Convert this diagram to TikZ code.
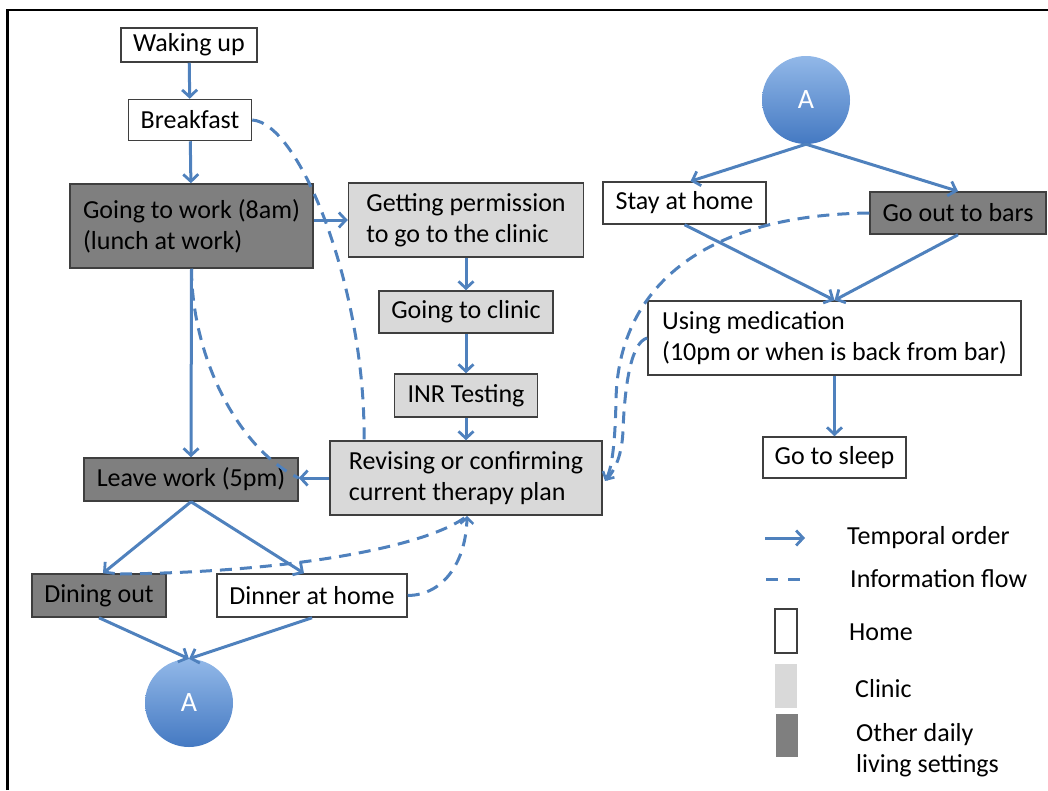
\documentclass[tikz,border=0pt]{standalone}
\usepackage{fontspec}
\setmainfont{Carlito}
\usetikzlibrary{arrows.meta,calc}
\definecolor{arrowblue}{HTML}{4F81BD}
\definecolor{darkfill}{HTML}{7F7F7F}
\definecolor{lightfill}{HTML}{D9D9D9}
\definecolor{boxline}{HTML}{3F3F3F}
\definecolor{circtop}{HTML}{92B8E8}
\definecolor{circbot}{HTML}{4479C2}
\begin{document}
\begin{tikzpicture}[x=1pt,y=-1pt,
  every node/.style={font=\fontsize{26}{31}\selectfont},
  box/.style={draw=boxline, line width=1.5pt, inner xsep=11pt, inner ysep=3pt, align=left},
  home/.style={box, fill=white},
  clinic/.style={box, fill=lightfill},
  other/.style={box, fill=darkfill},
  flow/.style={draw=arrowblue, line width=3pt, -{Straight Barb[length=7pt,width=15pt,line width=2.8pt]}},
  info/.style={draw=arrowblue, line width=3pt, dash pattern=on 12pt off 8pt},
  infoarrow/.style={info, -{Straight Barb[length=6pt,width=13pt,line width=2.6pt]}},
  conn/.style={circle, minimum size=88pt, inner sep=0pt, top color=circtop, bottom color=circbot, draw=none, text=white, font=\fontsize{28}{32}\selectfont}]
\useasboundingbox (0,0) rectangle (1048,790);
\draw[line width=2.2pt] (7.5,790) -- (7.5,10) -- (1048,10);

% nodes
\node[home, minimum width=136pt, minimum height=34pt] (wake) at (189,45) {Waking up};
\node[home, minimum width=123pt, minimum height=41pt] (bfast) at (190,120) {Breakfast};
\node[other, minimum width=243pt, minimum height=84pt] (work) at (191.5,226) {Going to work (8am)\\(lunch at work)};
\node[clinic, minimum width=235pt, minimum height=74pt] (perm) at (466,220) {Getting permission\\to go to the clinic};
\node[clinic, minimum width=174pt, minimum height=42pt] (goclinic) at (466,312) {Going to clinic};
\node[clinic, minimum width=143pt, minimum height=43pt] (inr) at (466,395.5) {INR Testing};
\node[clinic, minimum width=272pt, minimum height=74pt] (rev) at (466,478) {Revising or confirming\\current therapy plan};
\node[other, minimum width=214pt, minimum height=43pt] (leave) at (191,479.5) {Leave work (5pm)};
\node[other, minimum width=134pt, minimum height=43pt] (dine) at (99,595.5) {Dining out};
\node[home, minimum width=190pt, minimum height=43pt] (dinner) at (312,595.5) {Dinner at home};
\node[conn] (a1) at (189,703) {A};
\node[conn] (a2) at (806,100) {A};
\node[home, minimum width=163pt, minimum height=42pt] (stay) at (684.5,203) {Stay at home};
\node[other, minimum width=176pt, minimum height=42pt] (bars) at (958,213) {Go out to bars};
\node[home, minimum width=373pt, minimum height=74pt] (med) at (834.5,338) {Using medication\\(10pm or when is back from bar)};
\node[home, minimum width=143pt, minimum height=41pt] (sleep) at (834.5,457.5) {Go to sleep};

% temporal order
\draw[flow] (wake) -- (bfast);
\draw[flow] (bfast) -- (work);
\draw[flow] (work.east |- perm) -- (perm.west);
\draw[flow] (perm) -- (goclinic);
\draw[flow] (goclinic) -- (inr);
\draw[flow] (inr) -- (rev);
\draw[flow] (work.south) -- (leave.north);
\draw[flow] (rev.west) -- (rev.west -| leave.east);
\draw[flow] (leave.south) -- ($(dine.north)+(4,0)$);
\draw[flow] (leave.south) -- ($(dinner.north)+(-8,0)$);
\draw[flow] (dine.south) -- (a1.north);
\draw[flow] (dinner.south) -- (a1.north);
\draw[flow] (a2.south) -- ($(stay.north)+(6,0)$);
\draw[flow] (a2.south) -- (bars.north);
\draw[flow] (stay.south) -- (med.north);
\draw[flow] (bars.south) -- (med.north);
\draw[flow] (med.south) -- (sleep.north);

% information flow
\coordinate (revtop) at (364,441);
\coordinate (revright) at (605,481);
\coordinate (revbot) at (467,516);
\coordinate (dinetop) at (120,574);
\draw[info] (bfast.east) .. controls (300,123) and (366,290) .. (revtop);
\draw[info] (work.south) .. controls (192,360) and (240,450) .. (rev.west -| leave.east);
\draw[infoarrow] (bars.west) .. controls (700,215) and (618,290) .. (616,400) .. controls (615,450) and (611,470) .. (revright);
\draw[info] (med.west) .. controls (632,342) and (625,380) .. (623,430) .. controls (622,460) and (612,474) .. (revright);
\draw[info] (dinetop) .. controls (300,572) and (430,545) .. (revbot);
\draw[infoarrow] (dinner.east) .. controls (445,595) and (466,560) .. (revbot);

% legend
\coordinate (l1a) at (765,538); \coordinate (l1b) at (805,538);
\draw[flow] (l1a) -- (l1b);
\node[anchor=west, inner sep=0pt] (lt1) at (847,538) {Temporal order};
\coordinate (l2a) at (766,579); \coordinate (l2b) at (800,579);
\draw[info, dash pattern=on 12pt off 10pt] (l2a) -- (l2b);
\node[anchor=west, inner sep=0pt] (lt2) at (850,579) {Information flow};
\draw[draw=boxline, line width=1.5pt, fill=white] (775,609) rectangle (797,653);
\node[anchor=west, inner sep=0pt] (lt3) at (849,632) {Home};
\fill[lightfill] (775,664) rectangle (797,708);
\node[anchor=west, inner sep=0pt] (lt4) at (855,689) {Clinic};
\fill[darkfill] (776,714) rectangle (798,757);
\node[anchor=west, inner sep=0pt, align=left] (lt5) at (856,750) {Other daily\\living settings};
\end{tikzpicture}
\end{document}
